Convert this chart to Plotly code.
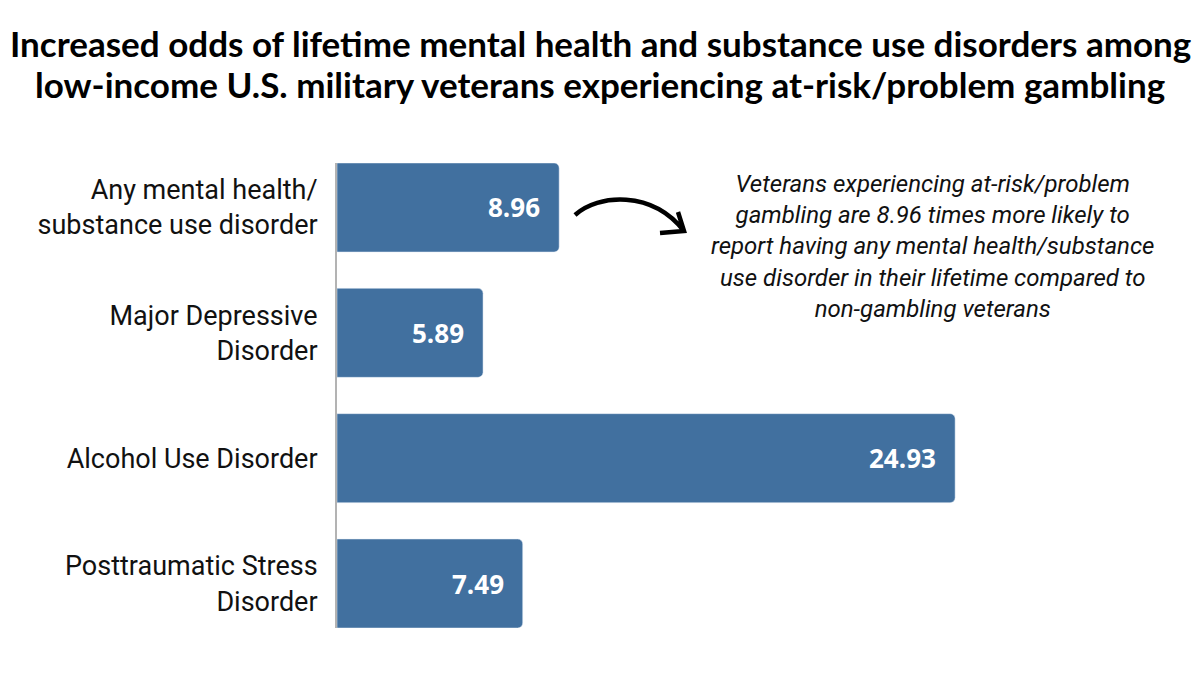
import plotly.graph_objects as go

categories = [
    "Any mental health/<br>substance use disorder",
    "Major Depressive<br>Disorder",
    "Alcohol Use Disorder",
    "Posttraumatic Stress<br>Disorder",
]
odds = [8.96, 5.89, 24.93, 7.49]

title_lines = [
    "Increased odds of lifetime mental health and substance use disorders among",
    "low-income U.S. military veterans experiencing at-risk/problem gambling",
]
note = ("Veterans experiencing at-risk/problem<br>gambling are 8.96 times more likely to<br>"
        "report having any mental health/substance<br>use disorder in their lifetime compared to<br>"
        "non-gambling veterans")

BAR = "#41709f"
# page body has an 8px margin, so the figure is a bit smaller than the window
OFF = 8
W, H = 1184, 659
ML, MR, MT, MB = 329, 12, 155, 39


def px2paper(sx, sy):
    # screen pixel -> paper coords
    x, y = sx - OFF, sy - OFF
    return (x - ML) / (W - ML - MR), (H - MB - y) / (H - MT - MB)


fig = go.Figure(go.Bar(
    x=odds, y=categories, orientation="h",
    marker=dict(color=BAR, cornerradius=5),
    width=0.71, hoverinfo="skip",
))

# value labels at the end of each bar
for v, c in zip(odds, categories):
    fig.add_annotation(x=v, y=c, text=f"{v:.2f}", showarrow=False,
                       xanchor="right", xshift=-17,
                       font=dict(family="Open Sans", size=26, color="white", weight="bold"))

# curved arrow
p = [px2paper(*pt) for pt in [(575, 215), (598, 194), (652, 190), (684, 231),
                                (678, 212), (684, 231), (660, 233)]]
path = (f"M {p[0][0]},{p[0][1]} C {p[1][0]},{p[1][1]} {p[2][0]},{p[2][1]} {p[3][0]},{p[3][1]} "
        f"M {p[4][0]},{p[4][1]} L {p[5][0]},{p[5][1]} L {p[6][0]},{p[6][1]}")
fig.add_shape(type="path", path=path, xref="paper", yref="paper",
              line=dict(color="black", width=4.5))

fx, fy = px2paper(932, 246)
fig.add_annotation(x=fx, y=fy, xref="paper", yref="paper", text=note, showarrow=False,
                   xanchor="center", yanchor="middle", align="center",
                   font=dict(family="Roboto", size=24, color="#111", style="italic"))

# title, two lines set tighter than plotly's default line height
for line, sy in zip(title_lines, [43, 84]):
    tx, ty = px2paper(600, sy)
    fig.add_annotation(x=tx, y=ty, xref="paper", yref="paper", text=line, showarrow=False,
                       xanchor="center", yanchor="middle",
                       font=dict(family="Lato", size=35, color="black", weight="bold"))

fig.update_layout(
    width=W, height=H,
    margin=dict(l=ML, r=MR, t=MT, b=MB),
    plot_bgcolor="white", paper_bgcolor="white",
    showlegend=False,
    xaxis=dict(range=[0, 34], visible=False, fixedrange=True),
    yaxis=dict(autorange=False, range=[3.355, -0.355], categoryorder="array",
               categoryarray=categories, showgrid=False, zeroline=False,
               showline=True, linecolor="#b3b3b3", linewidth=2,
               ticks="", ticklabelstandoff=12,
               tickfont=dict(family="Roboto", size=27, color="#111")),
)

fig.write_html("out.html")
